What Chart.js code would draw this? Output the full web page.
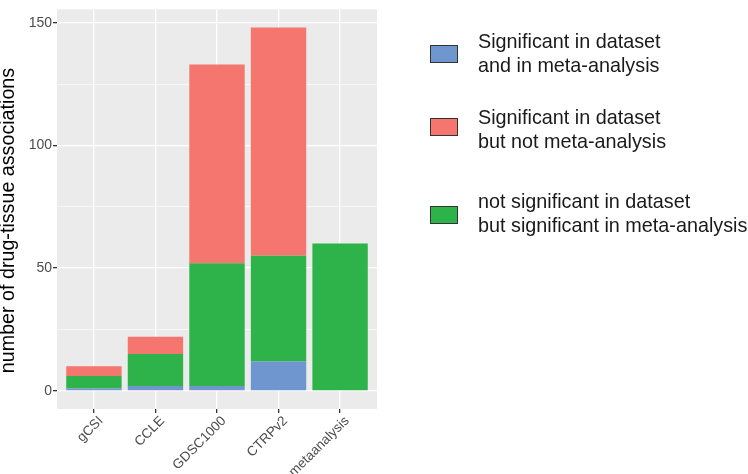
<!DOCTYPE html>
<html>
<head>
<meta charset="utf-8">
<script src="https://cdn.jsdelivr.net/npm/chart.js@4"></script>
<style>
  html, body { margin: 0; padding: 0; background: #fff; }
  #wrap { width: 748px; height: 474px; }
</style>
</head>
<body>
<div id="wrap"><canvas id="chart" width="748" height="474"></canvas></div>
<script>
// categories and stacked counts (bottom to top: blue, green, red)
const categories = ['gCSI', 'CCLE', 'GDSC1000', 'CTRPv2', 'metaanalysis'];
const sigBoth    = [1, 2, 2, 12, 0];    // significant in dataset and in meta-analysis
const sigNotMeta = [4, 7, 81, 93, 0];   // significant in dataset but not meta-analysis
const metaOnly   = [5, 13, 50, 43, 60]; // not significant in dataset but significant in meta-analysis
const yTicks = [0, 25, 50, 75, 100, 125, 150];

const labelBoth = ['Significant in dataset', 'and in meta-analysis'];
const labelNotMeta = ['Significant in dataset', 'but not meta-analysis'];
const labelMetaOnly = ['not significant in dataset', 'but significant in meta-analysis'];
const yTitle = 'number of drug-tissue associations';

const BLUE = '#7096CF', RED = '#F4766E', GREEN = '#2EB34B';
const FONT = '"Liberation Sans", Arial, Helvetica, sans-serif';

const toXY = arr => arr.map((v, i) => ({ x: i, y: v }));

// grey ggplot-like panel behind everything
const panelBg = {
  id: 'panelBg',
  beforeDraw(chart) {
    const { ctx, chartArea: a } = chart;
    ctx.save();
    ctx.fillStyle = '#EBEBEB';
    ctx.fillRect(a.left, a.top, a.right - a.left, a.bottom - a.top);
    ctx.restore();
  }
};

// y title + legend on the right with two-line labels
const extras = {
  id: 'extras',
  afterDraw(chart) {
    const ctx = chart.ctx;
    ctx.save();
    // y axis title
    ctx.translate(13.5, 220.5);
    ctx.rotate(-Math.PI / 2);
    ctx.font = '19.7px ' + FONT;
    ctx.fillStyle = '#000';
    ctx.textAlign = 'center';
    ctx.textBaseline = 'alphabetic';
    ctx.fillText(yTitle, 0, 0);
    ctx.restore();

    const boxY = [54, 127, 215];
    const textY = [55, 131, 215];
    ctx.save();
    ctx.font = '19.8px ' + FONT;
    ctx.textBaseline = 'middle';
    ctx.textAlign = 'left';
    chart.data.datasets.slice().sort((a, b) => a.legendOrder - b.legendOrder).forEach((ds, i) => {
      const cy = boxY[i];
      ctx.fillStyle = ds.backgroundColor;
      ctx.fillRect(430, cy - 9, 28, 18);
      ctx.strokeStyle = '#333';
      ctx.lineWidth = 1;
      ctx.strokeRect(430.5, cy - 8.5, 27, 17);
      ctx.fillStyle = '#1a1a1a';
      ctx.fillText(ds.label[0], 478, textY[i] - 12);
      ctx.fillText(ds.label[1], 478, textY[i] + 12);
    });
    ctx.restore();
  }
};

new Chart(document.getElementById('chart'), {
  type: 'bar',
  data: {
    datasets: [
      { label: labelBoth, data: toXY(sigBoth), backgroundColor: BLUE, legendOrder: 0 },
      { label: labelMetaOnly, data: toXY(metaOnly), backgroundColor: GREEN, legendOrder: 2 },
      { label: labelNotMeta, data: toXY(sigNotMeta), backgroundColor: RED, legendOrder: 1 }
    ]
  },
  options: {
    responsive: false,
    animation: false,
    barPercentage: 0.9,
    categoryPercentage: 1,
    layout: { padding: { top: 0, right: 371, bottom: 0, left: 0 } },
    plugins: { legend: { display: false }, tooltip: { enabled: false } },
    scales: {
      x: {
        type: 'linear',
        stacked: true,
        offset: false,
        min: -0.6,
        max: 4.6,
        afterBuildTicks: s => { s.ticks = categories.map((c, i) => ({ value: i })); },
        afterFit: s => { s.height = 65; },
        border: { display: false },
        grid: { offset: false, color: '#FFFFFF', lineWidth: 1.3, tickColor: '#333', tickLength: 4 },
        ticks: {
          minRotation: 45, maxRotation: 45, padding: 0, labelOffset: 7,
          color: '#4D4D4D', font: { family: FONT, size: 13.5 },
          callback: v => categories[v]
        }
      },
      y: {
        stacked: true,
        min: -7.4,
        max: 155.4,
        afterBuildTicks: s => { s.ticks = yTicks.map(v => ({ value: v })); },
        afterFit: s => { s.width = 57; },
        border: { display: false },
        grid: {
          color: '#FFFFFF',
          lineWidth: c => (c.tick && c.tick.value % 50 === 0 ? 1.3 : 0.6),
          tickColor: c => (c.tick && c.tick.value % 50 === 0 ? '#333' : 'rgba(0,0,0,0)'),
          tickLength: 4
        },
        ticks: {
          padding: 1, color: '#4D4D4D', font: { family: FONT, size: 14 },
          callback: v => (v % 50 === 0 ? String(v) : '')
        }
      }
    }
  },
  plugins: [panelBg, extras]
});
</script>
</body>
</html>
